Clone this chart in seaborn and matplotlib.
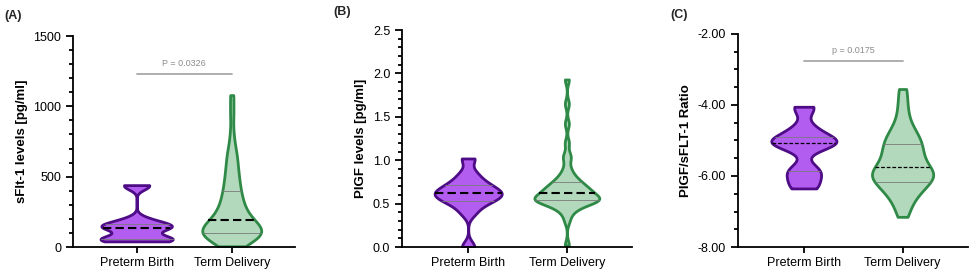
import matplotlib
matplotlib.use('Agg')
from matplotlib import pyplot as plt
from matplotlib.ticker import MultipleLocator, FormatStrFormatter
import pandas as pd
import seaborn as sns

# Group names
groups = ['Preterm Birth', 'Term Delivery']

# Panel A - sFlt-1 levels [pg/ml]
sflt_preterm = [40, 45, 50, 55, 62, 75, 125, 135, 142, 150, 160, 172, 200, 435, 440]
sflt_term = [5, 25, 45, 55, 65, 72, 78, 82, 86, 90, 93, 96, 100, 104, 108, 112,
             118, 125, 132, 140, 150, 160, 170, 180, 190, 200, 210, 225, 240,
             255, 270, 290, 310, 330, 350, 370, 395, 420, 450, 480, 510, 540,
             580, 620, 660, 700, 800, 950, 1080]

# Panel B - PlGF levels [pg/ml]
plgf_preterm = [0.0, 0.40, 0.50, 0.53, 0.57, 0.60, 0.62, 0.64, 0.67, 0.72,
                0.76, 0.85, 1.02]
plgf_term = [0.02, 0.30, 0.38, 0.42, 0.45, 0.47, 0.49, 0.50, 0.51, 0.52, 0.53,
             0.54, 0.54, 0.55, 0.55, 0.55, 0.56, 0.56, 0.57, 0.58, 0.59, 0.60,
             0.62, 0.63, 0.64, 0.65, 0.65, 0.66, 0.68, 0.69, 0.70, 0.72, 0.73,
             0.75, 0.77, 0.79, 0.82, 0.86, 0.92, 1.02, 1.06, 1.20, 1.42, 1.65,
             1.93]

# Panel C - PlGF/sFlt-1 ratio
ratio_preterm = [-6.35, -6.3, -6.1, -5.95, -5.85, -5.75, -5.2, -5.12, -5.08,
                 -5.05, -5.02, -4.98, -4.9, -4.75, -4.6, -4.1, -4.05]
ratio_term = [-7.15, -6.9, -6.75, -6.6, -6.5, -6.42, -6.35, -6.28, -6.22,
              -6.16, -6.1, -6.06, -6.02, -5.98, -5.94, -5.9, -5.85, -5.8,
              -5.74, -5.68, -5.62, -5.55, -5.48, -5.4, -5.32, -5.25, -5.18,
              -5.1, -5.02, -4.94, -4.85, -4.75, -4.62, -4.45, -4.2, -3.9, -3.55]

# Styling
fill_colors = ['#B35CF0', '#B2D9BC']
edge_colors = ['#4E0C86', '#2F8A47']

sns.set_style('ticks')
plt.rcParams['font.family'] = ['Liberation Sans', 'DejaVu Sans']
plt.rcParams['xtick.color'] = 'black'
plt.rcParams['ytick.color'] = 'black'
plt.rcParams['axes.edgecolor'] = 'black'
plt.rcParams['axes.labelcolor'] = 'black'


def draw_violins(ax, values, widths, bw, median_style):
    for i, group in enumerate(groups):
        df = pd.DataFrame({'group': group, 'value': values[i]})
        n_before = len(ax.lines)
        sns.violinplot(data=df, x='group', y='value', order=groups, ax=ax,
                       color=fill_colors[i], linecolor=edge_colors[i],
                       saturation=1, linewidth=2, cut=0, bw_adjust=bw[i],
                       density_norm='width', width=widths[i], inner='quart')
        quart_lines = ax.lines[n_before:]
        for j, line in enumerate(quart_lines):
            if j == 1:
                line.set_color('black')
                line.set_linewidth(median_style[0])
                line.set_linestyle((0, median_style[1]))
            else:
                line.set_color('#7a7a7a')
                line.set_linewidth(0.6)
                line.set_linestyle('-')
    ax.set_xlim(-0.67, 1.66)
    ax.set_xlabel('')
    ax.tick_params(axis='x', labelsize=9, width=1.3, length=4)
    ax.tick_params(axis='y', which='both', labelsize=9, width=1.3)
    ax.tick_params(axis='y', which='major', length=5)
    ax.tick_params(axis='y', which='minor', length=3)
    for side in ['left', 'bottom']:
        ax.spines[side].set_linewidth(1.3)
    sns.despine(ax=ax)


def add_pvalue(ax, y_line, y_text, text):
    ax.plot([0, 1], [y_line, y_line], color='#a8a8a8', linewidth=1.3)
    ax.text(0.5, y_text, text, ha='center', va='bottom', fontsize=6.5,
            color='#8c8c8c')


fig = plt.figure(figsize=(9.72, 2.74), dpi=100)

# Panel A
ax_a = fig.add_axes([0.075, 0.0985, 0.228, 0.770])
draw_violins(ax_a, [sflt_preterm, sflt_term], [0.76, 0.62], [0.4, 0.6], (1.5, (4, 2)))
ax_a.set_ylim(0, 1500)
ax_a.yaxis.set_major_locator(MultipleLocator(500))
ax_a.yaxis.set_minor_locator(MultipleLocator(100))
ax_a.set_ylabel('sFlt-1 levels [pg/ml]', fontsize=9.5, fontweight='bold')
add_pvalue(ax_a, 1230, 1270, 'P = 0.0326')
fig.text(0.004, 0.93, '(A)', fontsize=9, fontweight='bold')

# Panel B
ax_b = fig.add_axes([0.4136, 0.0985, 0.2366, 0.792])
draw_violins(ax_b, [plgf_preterm, plgf_term], [0.68, 0.66], [0.45, 0.35], (1.5, (4, 2)))
ax_b.set_ylim(0, 2.5)
ax_b.yaxis.set_major_locator(MultipleLocator(0.5))
ax_b.yaxis.set_minor_locator(MultipleLocator(0.1))
ax_b.yaxis.set_major_formatter(FormatStrFormatter('%.1f'))
ax_b.set_ylabel('PIGF levels [pg/ml]', fontsize=9.5, fontweight='bold')
fig.text(0.343, 0.945, '(B)', fontsize=9, fontweight='bold')

# Panel C
ax_c = fig.add_axes([0.759, 0.0985, 0.2366, 0.7775])
draw_violins(ax_c, [ratio_preterm, ratio_term], [0.66, 0.62], [0.5, 0.55], (0.9, (3, 1.5)))
ax_c.set_ylim(-8, -2)
ax_c.yaxis.set_major_locator(MultipleLocator(2))
ax_c.yaxis.set_minor_locator(MultipleLocator(0.5))
ax_c.yaxis.set_major_formatter(FormatStrFormatter('%.2f'))
ax_c.set_ylabel('PIGF/sFLT-1 Ratio', fontsize=9.5, fontweight='bold')
add_pvalue(ax_c, -2.75, -2.6, 'p = 0.0175')
fig.text(0.69, 0.935, '(C)', fontsize=9, fontweight='bold')

fig.savefig('out.png', dpi=100)
